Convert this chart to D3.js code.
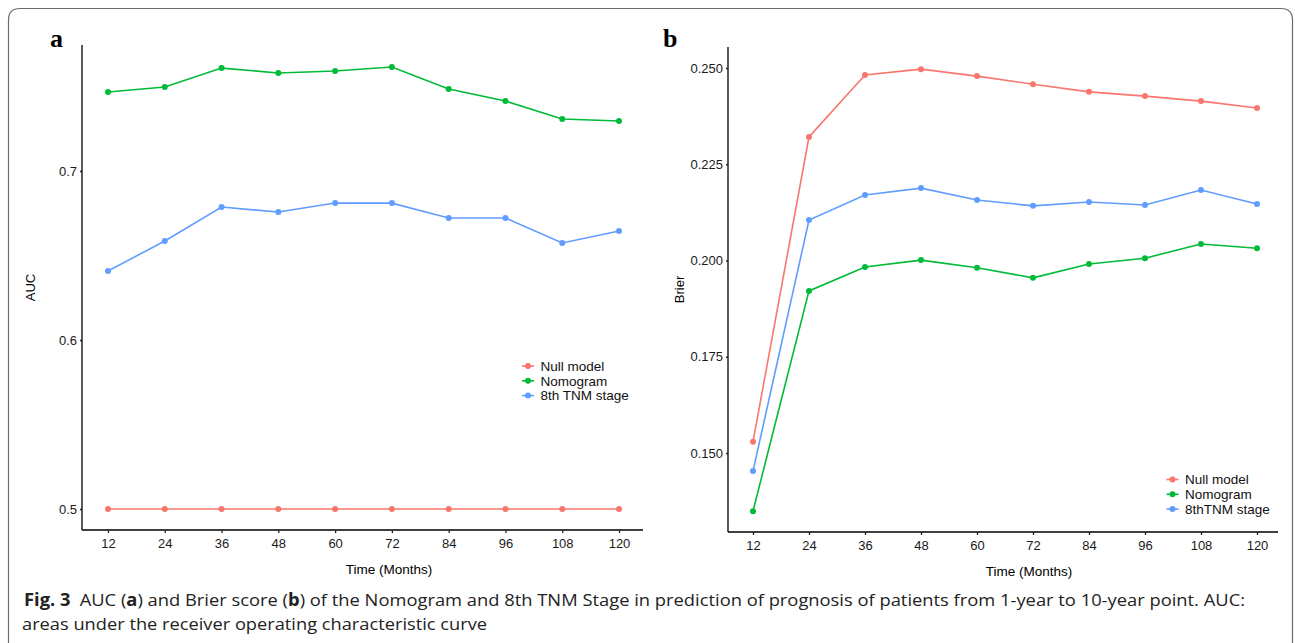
<!DOCTYPE html>
<html>
<head>
<meta charset="utf-8">
<script src="https://cdn.jsdelivr.net/npm/d3@7"></script>
<style>
  body { margin: 0; background: #fff; }
  svg { display: block; }
</style>
</head>
<body>
<svg id="fig" width="1295" height="643"></svg>
<script>
var months = [12, 24, 36, 48, 60, 72, 84, 96, 108, 120];
var seriesNames = ["Null model", "Nomogram", "8th TNM stage"];
var legendNamesB = ["Null model", "Nomogram", "8thTNM stage"];
var colors = ["#F8766D", "#00BA38", "#619CFF"];

// panel a: AUC
var aucNull = [0.5, 0.5, 0.5, 0.5, 0.5, 0.5, 0.5, 0.5, 0.5, 0.5];
var aucNomogram = [0.7467, 0.7497, 0.7609, 0.7580, 0.7592, 0.7615, 0.7485, 0.7414, 0.7308, 0.7296];
var aucTnm = [0.6408, 0.6586, 0.6787, 0.6757, 0.6811, 0.6810, 0.6722, 0.6722, 0.6574, 0.6645];
var aucTicks = [0.5, 0.6, 0.7];

// panel b: Brier score
var brierNull = [0.1529, 0.2321, 0.2482, 0.2497, 0.2479, 0.2458, 0.2438, 0.2427, 0.2414, 0.2396];
var brierNomogram = [0.1349, 0.1921, 0.1983, 0.2001, 0.1981, 0.1955, 0.1991, 0.2006, 0.2043, 0.2032];
var brierTnm = [0.1453, 0.2105, 0.2170, 0.2188, 0.2157, 0.2142, 0.2152, 0.2144, 0.2183, 0.2147];
var brierTicks = [0.150, 0.175, 0.200, 0.225, 0.250];

var svg = d3.select("#fig");
var font = "'Liberation Sans', Arial, sans-serif";

// outer rounded frame
svg.append("path")
  .attr("d", "M8.5,643 L8.5,20 Q8.5,8.5 20,8.5 L1281,8.5 Q1292.5,8.5 1292.5,20 L1292.5,643")
  .attr("fill", "none")
  .attr("stroke", "#6b6b6b")
  .attr("stroke-width", 1.2);

function panel(opt) {
  var x = d3.scaleLinear().domain([12, 120]).range([opt.x0, opt.x1]);
  // y range pinned to two tick positions
  var y = d3.scaleLinear().domain(opt.yDomain).range([opt.yLow, opt.yHigh]);

  var g = svg.append("g");

  var xAxis = d3.axisBottom(x).tickValues(months).tickSize(3).tickPadding(6);
  var yAxis = d3.axisLeft(y).tickValues(opt.yTicks).tickSize(2).tickPadding(3)
    .tickFormat(opt.fmt);

  var gx = g.append("g")
    .attr("transform", "translate(0," + opt.axisBottom + ")")
    .call(xAxis);
  gx.select(".domain").attr("d", "M" + opt.axisLeft + ",0H" + opt.axisRight)
    .attr("stroke", "#000").attr("stroke-width", 1.3);

  var gy = g.append("g")
    .attr("transform", "translate(" + opt.axisLeft + ",0)")
    .call(yAxis);
  gy.select(".domain").attr("d", "M0," + opt.axisTop + "V" + opt.axisBottom)
    .attr("stroke", "#000").attr("stroke-width", 1.3);

  [gx, gy].forEach(function (a) {
    a.selectAll("text").attr("font-family", font).attr("font-size", 13).attr("fill", "#1a1a1a");
    a.selectAll(".tick line").attr("stroke", "#222").attr("stroke-width", 1.3);
  });

  var line = d3.line()
    .x(function (d, i) { return x(months[i]); })
    .y(function (d) { return y(d); });

  opt.series.forEach(function (s, k) {
    g.append("path")
      .datum(s)
      .attr("fill", "none")
      .attr("stroke", colors[k])
      .attr("stroke-width", 1.6)
      .attr("d", line);
    g.selectAll(null)
      .data(s)
      .enter()
      .append("circle")
      .attr("cx", function (d, i) { return x(months[i]); })
      .attr("cy", function (d) { return y(d); })
      .attr("r", 3)
      .attr("fill", colors[k]);
  });

  // axis titles
  g.append("text")
    .attr("x", opt.xTitleX)
    .attr("y", opt.axisBottom + 44)
    .attr("text-anchor", "middle")
    .attr("font-family", font)
    .attr("font-size", 13.5)
    .text("Time (Months)");

  g.append("text")
    .attr("transform", "translate(" + opt.yTitleX + "," + ((opt.axisTop + opt.axisBottom) / 2) + ") rotate(-90)")
    .attr("text-anchor", "middle")
    .attr("font-family", font)
    .attr("font-size", 13)
    .text(opt.yTitle);

  // panel letter
  g.append("text")
    .attr("x", opt.letterX)
    .attr("y", 47)
    .attr("font-family", "'Liberation Serif', 'DejaVu Serif', serif")
    .attr("font-weight", "bold")
    .attr("font-size", 26)
    .text(opt.letter);

  // legend
  var lg = g.append("g").attr("transform", "translate(" + opt.legX + "," + opt.legY + ")");
  opt.legend.forEach(function (name, k) {
    var row = lg.append("g").attr("transform", "translate(0," + (k * 14.8) + ")");
    row.append("line").attr("x1", -6).attr("x2", 6)
      .attr("stroke", colors[k]).attr("stroke-width", 1.6);
    row.append("circle").attr("r", 3).attr("fill", colors[k]);
    row.append("text").attr("x", 12.5).attr("dy", "0.35em")
      .attr("font-family", font).attr("font-size", 13.5).attr("fill", "#111")
      .text(name);
  });
}

panel({
  x0: 108, x1: 619, axisLeft: 82, axisRight: 643, axisTop: 45, axisBottom: 530,
  yDomain: [0.5, 0.7], yLow: 509, yHigh: 171, yTicks: aucTicks,
  fmt: d3.format(".1f"),
  series: [aucNull, aucNomogram, aucTnm],
  xTitleX: 389, yTitle: "AUC", yTitleX: 35, letter: "a", letterX: 50,
  legend: seriesNames, legX: 528, legY: 366
});

panel({
  x0: 753, x1: 1257, axisLeft: 728, axisRight: 1278, axisTop: 47, axisBottom: 532,
  yDomain: [0.150, 0.250], yLow: 453, yHigh: 68, yTicks: brierTicks,
  fmt: d3.format(".3f"),
  series: [brierNull, brierNomogram, brierTnm],
  xTitleX: 1029, yTitle: "Brier", yTitleX: 684, letter: "b", letterX: 663,
  legend: legendNamesB, legX: 1172.5, legY: 479.5
});

// caption
var capFont = "'Open Sans', 'Noto Sans', sans-serif";
var l1 = svg.append("text")
  .attr("x", 24).attr("y", 606)
  .attr("font-family", capFont).attr("font-size", 17).attr("fill", "#222")
  .attr("textLength", 1221).attr("lengthAdjust", "spacingAndGlyphs");
l1.append("tspan").attr("font-weight", "bold").text("Fig. 3");
l1.append("tspan").text("\u2002AUC (");
l1.append("tspan").attr("font-weight", "bold").text("a");
l1.append("tspan").text(") and Brier score (");
l1.append("tspan").attr("font-weight", "bold").text("b");
l1.append("tspan").text(") of the Nomogram and 8th TNM Stage in prediction of prognosis of patients from 1-year to 10-year point. AUC:");

svg.append("text")
  .attr("x", 22).attr("y", 630)
  .attr("font-family", capFont).attr("font-size", 17).attr("fill", "#222")
  .attr("textLength", 465).attr("lengthAdjust", "spacingAndGlyphs")
  .text("areas under the receiver operating characteristic curve");
</script>
</body>
</html>
